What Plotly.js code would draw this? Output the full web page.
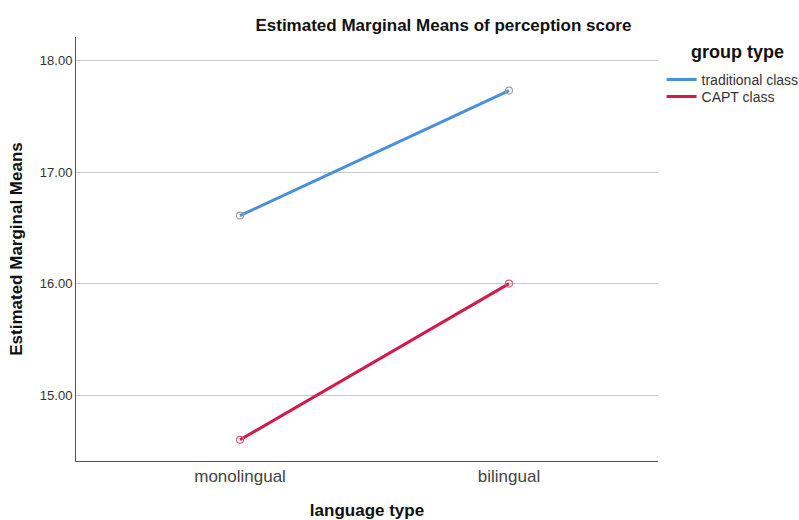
<!DOCTYPE html>
<html><head><meta charset="utf-8">
<script src="https://cdn.plot.ly/plotly-3.0.1.min.js"></script>
<style>body{margin:0;background:#fff}#c{width:799px;height:520px}</style>
</head><body><div id="c"></div>
<script>
const categories = ["monolingual", "bilingual"];
const traditional = [16.61, 17.73];
const capt = [14.60, 16.00];
const seriesNames = ["traditional class", "CAPT class"];
const legendTitle = "group type";
const yTickVals = [15, 16, 17, 18];
const yTickText = ["15.00", "16.00", "17.00", "18.00"];

const F = "Liberation Sans, Arial, sans-serif";
const blue = "#4a8fdc", red = "#d11a4d";
const traces = [
  {x: categories, y: traditional, name: seriesNames[0], type: "scatter", mode: "lines",
   line: {color: blue, width: 3}, legend: "legend"},
  {x: categories, y: capt, name: seriesNames[1], type: "scatter", mode: "lines",
   line: {color: red, width: 3}, legend: "legend2"},
  {x: categories, y: traditional, type: "scatter", mode: "markers", showlegend: false,
   marker: {symbol: "circle-open", size: 7, color: "#a0a0b0", line: {width: 1.2}}},
  {x: categories, y: capt, type: "scatter", mode: "markers", showlegend: false,
   marker: {symbol: "circle-open", size: 7, color: "#d86080", line: {width: 1.2}}}
];
const legendBase = {xref: "container", yref: "container", x: 0.828, xanchor: "left", yanchor: "middle",
  font: {size: 14, color: "#333", family: F}, itemwidth: 30, bgcolor: "rgba(0,0,0,0)"};
const layout = {
  width: 799, height: 520,
  margin: {l: 76, r: 141, t: 37, b: 59},
  paper_bgcolor: "#fff", plot_bgcolor: "#fff",
  font: {family: F, color: "#222"},
  title: {text: "<b>Estimated Marginal Means of perception score</b>", font: {size: 17, family: F, color: "#111"},
          x: 0.555, xanchor: "center", y: 0.952, yanchor: "middle"},
  xaxis: {type: "category", range: [-0.61, 1.554], showgrid: false, zeroline: false,
          showline: true, linecolor: "#555", linewidth: 1, ticks: "",
          tickfont: {size: 17, color: "#444", family: F},
          title: {text: "<b>language type</b>", font: {size: 17, color: "#111", family: F}, standoff: 20}},
  yaxis: {range: [14.41, 18.21], tickvals: yTickVals, ticktext: yTickText,
          showgrid: true, gridcolor: "#c8c8c8", gridwidth: 1, zeroline: false,
          showline: true, linecolor: "#555", linewidth: 1, ticks: "",
          tickfont: {size: 13, color: "#333", family: F},
          title: {text: "<b>Estimated Marginal Means</b>", font: {size: 17, color: "#111", family: F}, standoff: 12}},
  legend: Object.assign({}, legendBase, {y: 1 - 80 / 520}),
  legend2: Object.assign({}, legendBase, {y: 1 - 97 / 520}),
  annotations: [{xref: "paper", yref: "paper", x: (689 - 76) / 582, y: (461 - 52) / 424,
                 xanchor: "left", yanchor: "middle", showarrow: false,
                 text: "<b>" + legendTitle + "</b>", font: {size: 18, color: "#111", family: F}}],
  showlegend: true
};
Plotly.newPlot("c", traces, layout, {displayModeBar: false, staticPlot: true});
</script></body></html>
